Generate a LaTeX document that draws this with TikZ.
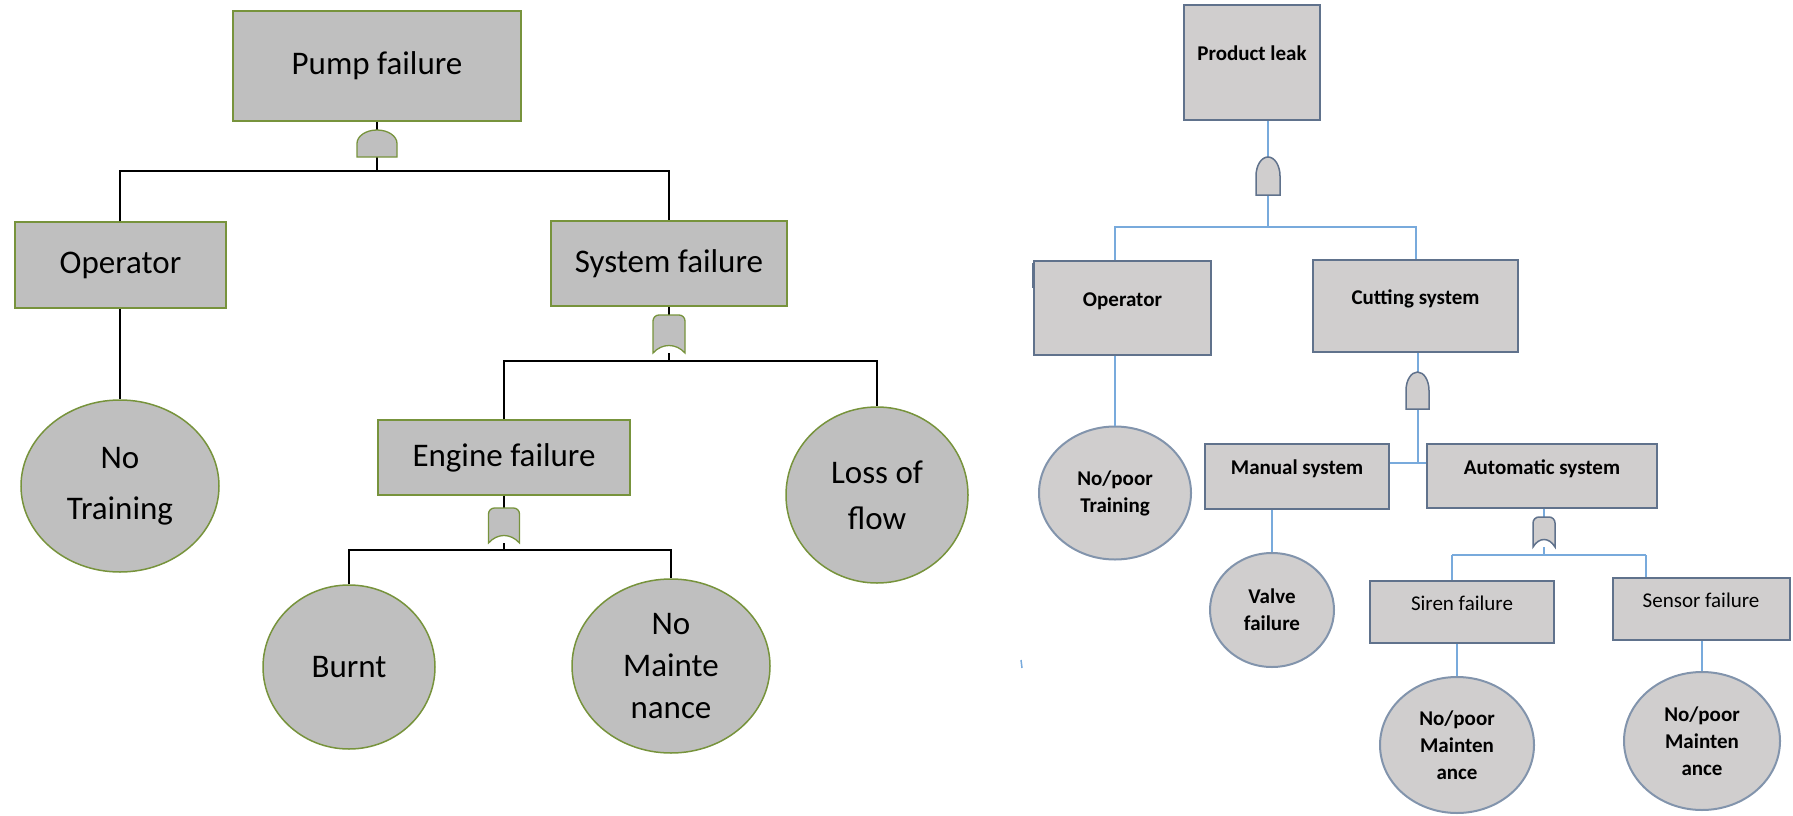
\documentclass[tikz,border=0pt]{standalone}
\usepackage{fontspec}
\setmainfont{Carlito}
\usetikzlibrary{calc}
\usetikzlibrary{positioning}
\usetikzlibrary{shapes}
\definecolor{lfill}{RGB}{191,191,191}
\definecolor{olive}{RGB}{119,147,60}
\definecolor{rfill}{RGB}{208,206,206}
\definecolor{slate}{RGB}{96,114,140}
\definecolor{cslate}{RGB}{130,148,172}
\definecolor{lblue}{RGB}{120,170,220}
\tikzset{
  lbox/.style={rectangle, draw=olive, fill=lfill, line width=1.5pt, inner sep=0pt,
    font=\fontsize{33}{44}\selectfont},
  lcirc/.style={ellipse, draw=olive, fill=lfill, line width=1.5pt, inner sep=0pt,
    align=center, font=\fontsize{33}{44}\selectfont},
  rbox/.style={rectangle, draw=slate, fill=rfill, line width=2pt, inner sep=0pt,
    text height=14pt, text depth=18pt, font=\bfseries\fontsize{21}{27}\selectfont},
  rcirc/.style={ellipse, draw=cslate, fill=rfill, line width=2pt, inner sep=0pt,
    align=center, font=\bfseries\fontsize{21}{27}\selectfont},
  gatebox/.style={rectangle, inner sep=0pt, outer sep=0pt},
  lgate/.style={draw=olive, fill=lfill, line width=1.3pt},
  rgate/.style={draw=slate, fill=rfill, line width=1.5pt},
  lline/.style={draw=black, line width=1.8pt},
  rline/.style={draw=lblue, line width=2pt}
}
\newcommand{\andgate}[4][]{\draw[#1] (#2.south west) -- (#2.west)
  arc[start angle=180, end angle=0, x radius=#3, y radius=#4] -- (#2.south east) -- cycle;}
\newcommand{\orgate}[3][]{\draw[#1] (#2.south west) -- ($(#2.north west)+(0,6)$)
  arc[start angle=180, end angle=90, radius=6pt] -- ($(#2.north east)+(-6,0)$)
  arc[start angle=90, end angle=0, radius=6pt] -- (#2.south east)
  .. controls +(-#3,-10) and +(#3,-10) .. (#2.south west) -- cycle;}
\begin{document}
\begin{tikzpicture}[x=1pt, y=-1pt]
\useasboundingbox (0,0) rectangle (1793,816);

\node[lbox, minimum width=288pt, minimum height=110pt] (pump) at (377,66) {Pump failure};
\node[lbox, minimum width=211pt, minimum height=86pt] (opl) at (120.5,265) {Operator};
\node[lbox, minimum width=236pt, minimum height=85pt] (sysf) at (669,263.5) {System failure};
\node[lbox, minimum width=252pt, minimum height=75pt] (engf) at (504,457.5) {Engine failure};
\node[lcirc, font=\fontsize{33}{51}\selectfont, minimum width=198pt, minimum height=172pt] (notrain) at (120,486) {No\\Training};
\node[lcirc, font=\fontsize{33}{46}\selectfont, minimum width=182pt, minimum height=176pt] (lossflow) at (877,495) {Loss of\\flow};
\node[lcirc, minimum width=172pt, minimum height=164pt] (burnt) at (349,667) {Burnt};
\node[lcirc, font=\fontsize{33}{42}\selectfont, minimum width=198pt, minimum height=174pt] (nomaint) at (671,666) {No\\Mainte\\nance};
\node[gatebox, minimum width=40pt, minimum height=27pt] (g1) at (377,143.5) {};
\node[gatebox, minimum width=32pt, minimum height=38pt] (g2) at (669,334) {};
\node[gatebox, minimum width=31pt, minimum height=35pt] (g3) at (504,525.5) {};
\coordinate (j1) at (377,171);
\coordinate (j2) at (669,361);
\coordinate (j3) at (504,550);

\draw[lline] (pump.south) -- (g1.north);
\draw[lline] (g1.south) -- (j1);
\draw[lline] (opl.north -| notrain.north) |- (j1) -| (sysf.north);
\draw[lline] (opl.south -| notrain.north) -- (notrain.north);
\draw[lline] (sysf.south) -- (g2.north);
\draw[lline] (g2.south) -- (j2);
\draw[lline] (engf.north) |- (j2) -| (lossflow.north);
\draw[lline] (engf.south) -- (g3.north);
\draw[lline] (g3.south) -- (j3);
\draw[lline] (burnt.north) |- (j3) -| (nomaint.north);
\andgate[lgate]{g1}{20pt}{13.5pt}
\orgate[lgate]{g2}{9}
\orgate[lgate]{g3}{9}

\node[rbox, minimum width=136pt, minimum height=115pt] (leak) at (1252,62.5) {Product leak};
\node[rbox, minimum width=177pt, minimum height=94pt] (opr) at (1122.5,308) {Operator};
\node[rbox, minimum width=205pt, minimum height=92pt] (cut) at (1415.5,306) {Cutting system};
\node[rbox, minimum width=184pt, minimum height=65pt] (man) at (1297,476.5) {Manual system};
\node[rbox, minimum width=230pt, minimum height=64pt] (auto) at (1542,476) {Automatic system};
\node[rbox, font=\fontsize{21}{27}\selectfont, minimum width=184pt, minimum height=62pt] (sir) at (1462,612) {Siren failure};
\node[rbox, font=\fontsize{21}{27}\selectfont, minimum width=177pt, minimum height=62pt] (sen) at (1701,609) {Sensor failure};
\node[rcirc, minimum width=152pt, minimum height=133pt] (notr) at (1115,493) {No/poor\\Training};
\node[rcirc, minimum width=124pt, minimum height=114pt] (valve) at (1272,610) {Valve\\failure};
\node[rcirc, minimum width=154pt, minimum height=136pt] (mnt1) at (1457,745) {No/poor\\Mainten\\ance};
\node[rcirc, minimum width=156pt, minimum height=138pt] (mnt2) at (1702,741) {No/poor\\Mainten\\ance};
\node[gatebox, minimum width=24pt, minimum height=38pt] (g4) at (1268,176) {};
\node[gatebox, minimum width=23pt, minimum height=37pt] (g5) at (1417.5,390.5) {};
\node[gatebox, minimum width=22pt, minimum height=30pt] (g6) at (1544,532) {};
\coordinate (j4) at (1268,227);
\coordinate (j5) at (1417.5,463);
\coordinate (j6) at (1544,555);
\coordinate (j6l) at (1452,555);
\coordinate (j6r) at (1646,555);

\draw[rline] (leak.south -| g4.north) -- (g4.north);
\draw[rline] (g4.south) -- (j4);
\draw[rline] (opr.north -| notr.north) |- (j4) -| (cut.north);
\draw[rline] (opr.south -| notr.north) -- (notr.north);
\draw[rline] (cut.south -| g5.north) -- (g5.north);
\draw[rline] (g5.south) -- (j5);
\draw[rline] (man.east |- j5) -- (auto.west |- j5);
\draw[rline] (man.south -| valve.north) -- (valve.north);
\draw[rline] (auto.south -| g6.north) -- (g6.north);
\draw[rline] (g6.south) -- (j6);
\draw[rline] (j6l) -- (j6r);
\draw[rline] (j6l) -- (j6l |- sir.north);
\draw[rline] (j6r) -- (j6r |- sen.north);
\draw[rline] (sir.south -| mnt1.north) -- (mnt1.north);
\draw[rline] (sen.south -| mnt2.north) -- (mnt2.north);
\andgate[rgate]{g4}{12pt}{19pt}
\andgate[rgate]{g5}{11.5pt}{18.5pt}
\orgate[rgate]{g6}{6}
\draw[slate, line width=2.5pt] (opr.north west) ++(0,3) -- ++(0,25);
\draw[lblue, line width=1.5pt] (1021,660) -- (1022,668);
\end{tikzpicture}
\end{document}
